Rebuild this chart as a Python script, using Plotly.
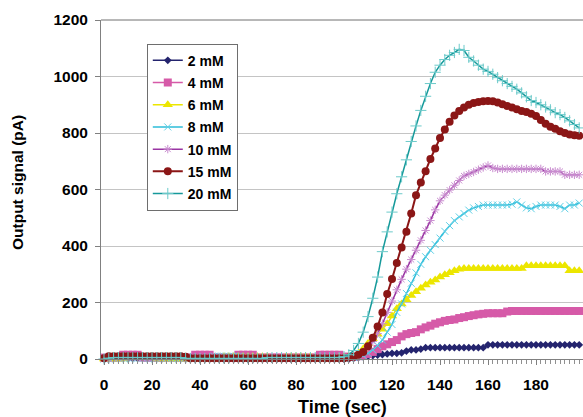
import plotly.graph_objects as go

time_sec = list(range(0, 200, 2))

series_names = ["2 mM", "4 mM", "6 mM", "8 mM", "10 mM", "15 mM", "20 mM"]

sig_2mM = [2,2,3,3,3,3,3,3,3,3, 3,3,0,-4,-4,-4,-4,0,0,0, 0,0,0,0,0,0,0,0,0,0,
           0,0,0,0,0,0,0,0,0,0, 0,0,0,0,0,0,0,0,0,0,
           0,0,2,5,8,10,12,14,16,18, 20,20,22,28,32,32,35,40,40,40,
           40,40,40,40,40,40,40,40,40,40, 50,50,50,50,50,50,50,50,50,50,
           50,50,50,50,50,50,50,50,50,50]

sig_4mM = [5,5,5,5,15,15,15,15,5,5, 5,5,5,5,5,5,5,5,5,15, 15,15,15,5,5,5,5,5,15,15,
           15,15,5,5,5,5,5,5,5,5, 5,5,5,5,5,15,15,15,15,15,
           8,8,8,10,12,18,25,35,45,52, 60,67,80,88,92,95,105,112,118,125,
           130,135,138,140,145,148,152,155,158,160, 162,162,162,162,168,170,170,170,170,170,
           170,170,170,170,170,170,170,170,170,170]

sig_6mM = [0,0,0,0,0,8,8,8,8,8, 8,0,0,0,0,0,0,0,0,0, 0,0,0,0,0,8,8,8,8,8,
           8,8,8,8,8,0,0,0,8,8, 8,8,8,8,0,0,0,0,0,5,
           5,8,10,20,35,55,72,88,105,125, 152,178,195,210,225,238,250,262,272,280,
           290,298,305,312,318,320,320,320,320,320, 320,320,320,320,320,320,320,320,330,330,
           330,330,330,330,330,330,330,312,312,312]

sig_8mM = [0,0,3,3,3,3,3,3,3,3, 3,3,3,3,3,3,3,3,3,3, 3,3,3,10,10,10,10,10,10,3,
           3,3,3,3,3,3,3,3,3,3, 3,3,3,3,3,3,3,3,3,3,
           3,4,5,8,12,20,32,48,67,95, 122,165,195,232,268,305,335,362,385,405,
           428,452,472,490,503,515,527,535,540,545, 545,545,545,545,545,548,556,545,535,532,
           540,545,545,545,545,540,532,545,545,552]

sig_10mM = [0,0,5,5,5,5,5,5,5,5, 5,5,5,-3,-3,-3,-3,5,5,5, 5,5,5,5,5,5,5,5,5,5,
            5,5,5,5,5,5,5,5,5,5, 5,5,5,5,5,5,5,5,5,5,
            3,5,8,15,25,40,62,90,125,165, 205,245,282,318,352,385,420,455,490,528,
            560,580,598,615,632,648,655,662,670,678, 685,676,673,673,673,673,673,673,673,673,
            673,673,664,664,664,664,652,652,652,652]

sig_15mM = [3,10,10,10,10,10,10,10,10,10, 10,10,10,10,10,10,10,8,3,3, 3,3,3,3,3,3,3,3,3,3,
            3,3,3,3,3,3,3,3,3,3, 3,3,3,3,3,3,3,3,3,3,
            3,5,8,15,25,45,75,115,165,230, 283,340,395,450,515,580,625,665,708,745,
            782,812,840,862,878,890,900,906,910,912, 913,912,908,902,896,890,884,878,874,868,
            860,846,833,822,815,806,800,795,792,790]

sig_20mM = [0,3,5,5,5,5,5,5,5,5, 5,5,5,5,5,5,5,2,2,2, 2,2,2,2,2,2,2,2,2,2,
            2,2,2,2,5,5,5,5,5,5, 5,5,5,5,5,5,5,5,5,5,
            8,15,30,55,95,150,215,290,380,450, 520,585,645,705,770,825,880,930,975,1015,
            1040,1060,1075,1085,1096,1092,1068,1055,1040,1026, 1018,1008,996,985,975,965,955,942,928,915,
            908,900,892,882,872,865,855,843,830,818]

y_ticks = [0, 200, 400, 600, 800, 1000, 1200]
x_ticks = [0, 20, 40, 60, 80, 100, 120, 140, 160, 180]

styles = [
    dict(lc="#24246e", mc="#24246e", sym="diamond", ms=6, lw=1.5, mlw=0),
    dict(lc="#d65aa8", mc="#d65aa8", sym="square", ms=8, lw=1.5, mlw=0),
    dict(lc="#ece600", mc="#ece600", sym="triangle-up", ms=9, lw=1.5, mlw=0),
    dict(lc="#2cbcd9", mc="#5fd0e6", sym="x-thin-open", ms=7, lw=1.5, mlw=1),
    dict(lc="#9a35a3", mc="#c98ccf", sym="asterisk-open", ms=7, lw=1.5, mlw=1),
    dict(lc="#8b1616", mc="#8b1616", sym="circle", ms=8, lw=2, mlw=0),
    dict(lc="#15999a", mc="#6ccaca", sym="cross-thin-open", ms=8, lw=1.5, mlw=1),
]
data = [sig_2mM, sig_4mM, sig_6mM, sig_8mM, sig_10mM, sig_15mM, sig_20mM]

fig = go.Figure()
for i, (name, ys, st) in enumerate(zip(series_names, data, styles)):
    fig.add_trace(go.Scatter(
        x=time_sec, y=ys, name=name, mode="lines+markers",
        line=dict(color=st["lc"], width=st["lw"]),
        marker=dict(symbol=st["sym"], size=st["ms"], color=st["mc"],
                    line=dict(color=st["mc"], width=st["mlw"])),
        cliponaxis=False, legendgroup=f"g{i}",
    ))

font_fam = "Liberation Sans, Arial, sans-serif"
fig.update_layout(
    width=583, height=417,
    margin=dict(l=101, r=0, t=20, b=58, autoexpand=False),
    paper_bgcolor="white", plot_bgcolor="white",
    showlegend=True,
    legend=dict(x=0.095, y=0.93, xanchor="left", yanchor="top",
                bgcolor="white", bordercolor="#6e6e6e", borderwidth=1,
                font=dict(family=font_fam, size=14, color="black", weight="bold"),
                traceorder="grouped", tracegroupgap=1),
    xaxis=dict(range=[-1.25, 199.58], tickvals=x_ticks, showgrid=False, zeroline=False,
               showline=True, linecolor="#808080", linewidth=1,
               ticks="outside", ticklen=5, tickcolor="#808080",
               minor=dict(dtick=2, tick0=0, ticks="outside", ticklen=4, tickcolor="#909090", showgrid=False),
               tickfont=dict(family=font_fam, size=15.5, color="black", weight="bold"),
               ticklabelstandoff=6, automargin=False),
    yaxis=dict(range=[0, 1200], tickvals=y_ticks, showgrid=True, gridcolor="#c4c4c4", gridwidth=1,
               zeroline=False, showline=True, linecolor="#808080", linewidth=1,
               ticks="outside", ticklen=5, tickcolor="#808080",
               tickfont=dict(family=font_fam, size=15.5, color="black", weight="bold"),
               ticklabelstandoff=4, automargin=False),
    shapes=[dict(type="line", xref="paper", yref="paper", x0=0, x1=1, y0=1, y1=1,
                 line=dict(color="#707070", width=1))],
    annotations=[
        dict(text="Time (sec)", xref="paper", yref="paper", x=0.5, y=-(407 - 359) / 339,
             xanchor="center", yanchor="middle", showarrow=False,
             font=dict(family=font_fam, size=18, color="black", weight="bold")),
        dict(text="Output signal (pA)", xref="paper", yref="paper", x=-(101 - 17) / 482, y=(359 - 183) / 339,
             xanchor="center", yanchor="middle", showarrow=False, textangle=-90,
             font=dict(family=font_fam, size=15.5, color="black", weight="bold")),
    ],
)

fig.write_html("out.html", config={"displayModeBar": False},
               post_script="document.body.style.margin='0px';document.body.style.overflow='hidden';")
